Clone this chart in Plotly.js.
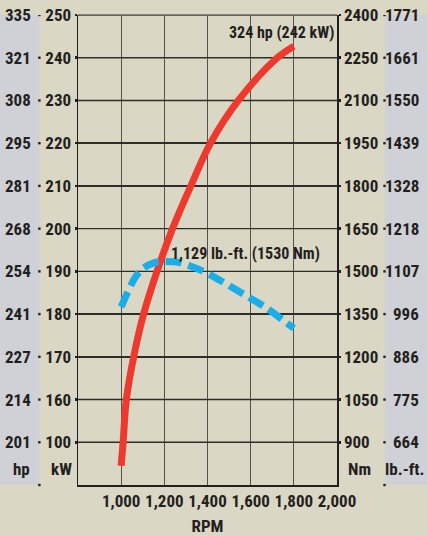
<!DOCTYPE html>
<html><head><meta charset="utf-8">
<script src="https://cdn.plot.ly/plotly-3.0.1.min.js"></script>
<style>html,body{margin:0;padding:0;background:#dad7c4;}#chart{width:427px;height:536px;}</style>
</head><body><div id="chart"></div>
<script>
const rpmTicks = [1000, 1200, 1400, 1600, 1800, 2000];
const rpmLabels = ['1,000', '1,200', '1,400', '1,600', '1,800', '2,000'];
const kwTicks = [150, 160, 170, 180, 190, 200, 210, 220, 230, 240, 250];
const kwLabels = ['100', '160', '170', '180', '190', '200', '210', '220', '230', '240', '250'];
const hpLabels = ['201', '214', '227', '241', '254', '268', '281', '295', '308', '321', '335'];
const nmTicks = [900, 1050, 1200, 1350, 1500, 1650, 1800, 1950, 2100, 2250, 2400];
const lbftLabels = ['664', '775', '886', '996', '1107', '1218', '1328', '1439', '1550', '1661', '1771'];

const powerRpm = [1000, 1009, 1024, 1058, 1104, 1166, 1238, 1323, 1414, 1543, 1724, 1800];
const powerKw = [144.5, 150, 160, 170, 180, 190, 200, 210, 220, 230, 240, 242.7];
const torqueRpm = [1000, 1062, 1100, 1154, 1200, 1270, 1375, 1475, 1575, 1670, 1765, 1800];
const torqueNm = [1375, 1475, 1510, 1531, 1535, 1531, 1502, 1461, 1416, 1373, 1320, 1300];

const FONT = '"Liberation Sans Narrow", "Arial Narrow", "Roboto Condensed", "Liberation Sans", sans-serif';
const TXT = '#231f20';
const W = 259, L = 78;
const px = x => (x - L) / W;

const traces = [
  {x: torqueRpm, y: torqueNm, yaxis: 'y2', mode: 'lines', line: {color: '#19aeea', width: 7, dash: '16px,7px', shape: 'spline', smoothing: 0.8}, hoverinfo: 'skip'},
  {x: powerRpm, y: powerKw, mode: 'lines', line: {color: '#ee3a2e', width: 7, shape: 'spline', smoothing: 1}, hoverinfo: 'skip'}
];

const annotations = [];
const shapes = [];
// grey side panels
shapes.push({type: 'rect', xref: 'paper', yref: 'paper', x0: px(0), x1: px(39.5), y0: 0, y1: 1, fillcolor: '#d0d1d6', line: {width: 0}, layer: 'below'});
shapes.push({type: 'rect', xref: 'paper', yref: 'paper', x0: px(384.5), x1: px(427), y0: 0, y1: 1, fillcolor: '#d0d1d6', line: {width: 0}, layer: 'below'});

kwTicks.forEach((k, i) => {
  // horizontal grid line drawn as a thin filled band
  shapes.push({type: 'rect', xref: 'x', yref: 'y', x0: 800, x1: 2000, y0: k - 0.17, y1: k + 0.17, fillcolor: '#2f2d28', line: {width: 0}, layer: 'below'});
  annotations.push({xref: 'paper', yref: 'y', x: px(33), y: k, xanchor: 'right', yanchor: 'middle', text: hpLabels[i], showarrow: false, font: {family: FONT, size: 17, color: TXT, weight: 'bold'}});
  shapes.push({type: 'rect', xref: 'paper', yref: 'y', x0: px(38.2), x1: px(40.6), y0: k - 0.28, y1: k + 0.28, fillcolor: TXT, line: {width: 0}});
});
nmTicks.forEach((n, i) => {
  annotations.push({xref: 'paper', yref: 'y2', x: px(420.5), y: n, xanchor: 'right', yanchor: 'middle', text: lbftLabels[i], showarrow: false, font: {family: FONT, size: 17, color: TXT, weight: 'bold'}});
  shapes.push({type: 'rect', xref: 'paper', yref: 'y2', x0: px(383.3), x1: px(385.7), y0: n - 4.2, y1: n + 4.2, fillcolor: TXT, line: {width: 0}});
});
// bottom corner dots
shapes.push({type: 'rect', xref: 'paper', yref: 'paper', x0: px(38.2), x1: px(40.6), y0: -0.0025, y1: 0.0025, fillcolor: TXT, line: {width: 0}});
shapes.push({type: 'rect', xref: 'paper', yref: 'paper', x0: px(383.3), x1: px(385.7), y0: -0.0025, y1: 0.0025, fillcolor: TXT, line: {width: 0}});

const unitY = 0.033;
[['hp', 21], ['kW', 61], ['Nm', 359], ['lb.-ft.', 405]].forEach(([t, x]) => {
  annotations.push({xref: 'paper', yref: 'paper', x: px(x), y: unitY, xanchor: 'center', yanchor: 'middle', text: t, showarrow: false, font: {family: FONT, size: 17, color: TXT, weight: 'bold'}});
});

annotations.push({xref: 'x', yref: 'y', x: 1995, y: 246, xanchor: 'right', yanchor: 'middle', text: '324 hp (242 kW)', showarrow: false, font: {family: FONT, size: 16, color: TXT, weight: 'bold'}});
annotations.push({xref: 'x', yref: 'y', x: 1222, y: 194.1, xanchor: 'left', yanchor: 'middle', text: '1,129 lb.-ft. (1530 Nm)', showarrow: false, font: {family: FONT, size: 16, color: TXT, weight: 'bold'}});

const layout = {
  width: 427, height: 536,
  margin: {l: 78, r: 90, t: 15, b: 51},
  paper_bgcolor: '#dad7c4', plot_bgcolor: 'rgba(0,0,0,0)',
  showlegend: false,
  font: {family: FONT, color: TXT, size: 17, weight: 'bold'},
  xaxis: {range: [800, 2000], tickvals: rpmTicks, ticktext: rpmLabels, showgrid: true, gridcolor: '#55524a', gridwidth: 1.3,
          zeroline: false, showline: true, linecolor: '#231f20', linewidth: 1.5, mirror: false, ticks: '',
          tickfont: {family: FONT, size: 17, color: TXT, weight: 'bold'},
          title: {text: 'RPM', font: {family: FONT, size: 17, color: TXT, weight: 'bold'}, standoff: 11}, fixedrange: true},
  yaxis: {range: [140, 250], tickvals: kwTicks, ticktext: kwLabels, showgrid: true, gridcolor: '#2f2d28', gridwidth: 1.5,
          zeroline: false, showline: true, linecolor: '#231f20', linewidth: 1.5, ticks: 'outside', ticklen: 2, tickwidth: 2.5, tickcolor: TXT,
          tickfont: {family: FONT, size: 17, color: TXT, weight: 'bold'}, fixedrange: true},
  yaxis2: {range: [750, 2400], tickvals: nmTicks, overlaying: 'y', side: 'right', showgrid: false, zeroline: false,
           showline: true, linecolor: '#231f20', linewidth: 1.5, ticks: 'outside', ticklen: 2, tickwidth: 2.5, tickcolor: TXT,
           tickfont: {family: FONT, size: 17, color: TXT, weight: 'bold'}, fixedrange: true},
  shapes: shapes.concat([
    {type: 'line', xref: 'paper', yref: 'paper', x0: 0, x1: 1, y0: 1, y1: 1, line: {color: '#6a675e', width: 1.5}}
  ]),
  annotations: annotations
};
Plotly.newPlot('chart', traces, layout, {displayModeBar: false, staticPlot: true});
</script></body></html>
